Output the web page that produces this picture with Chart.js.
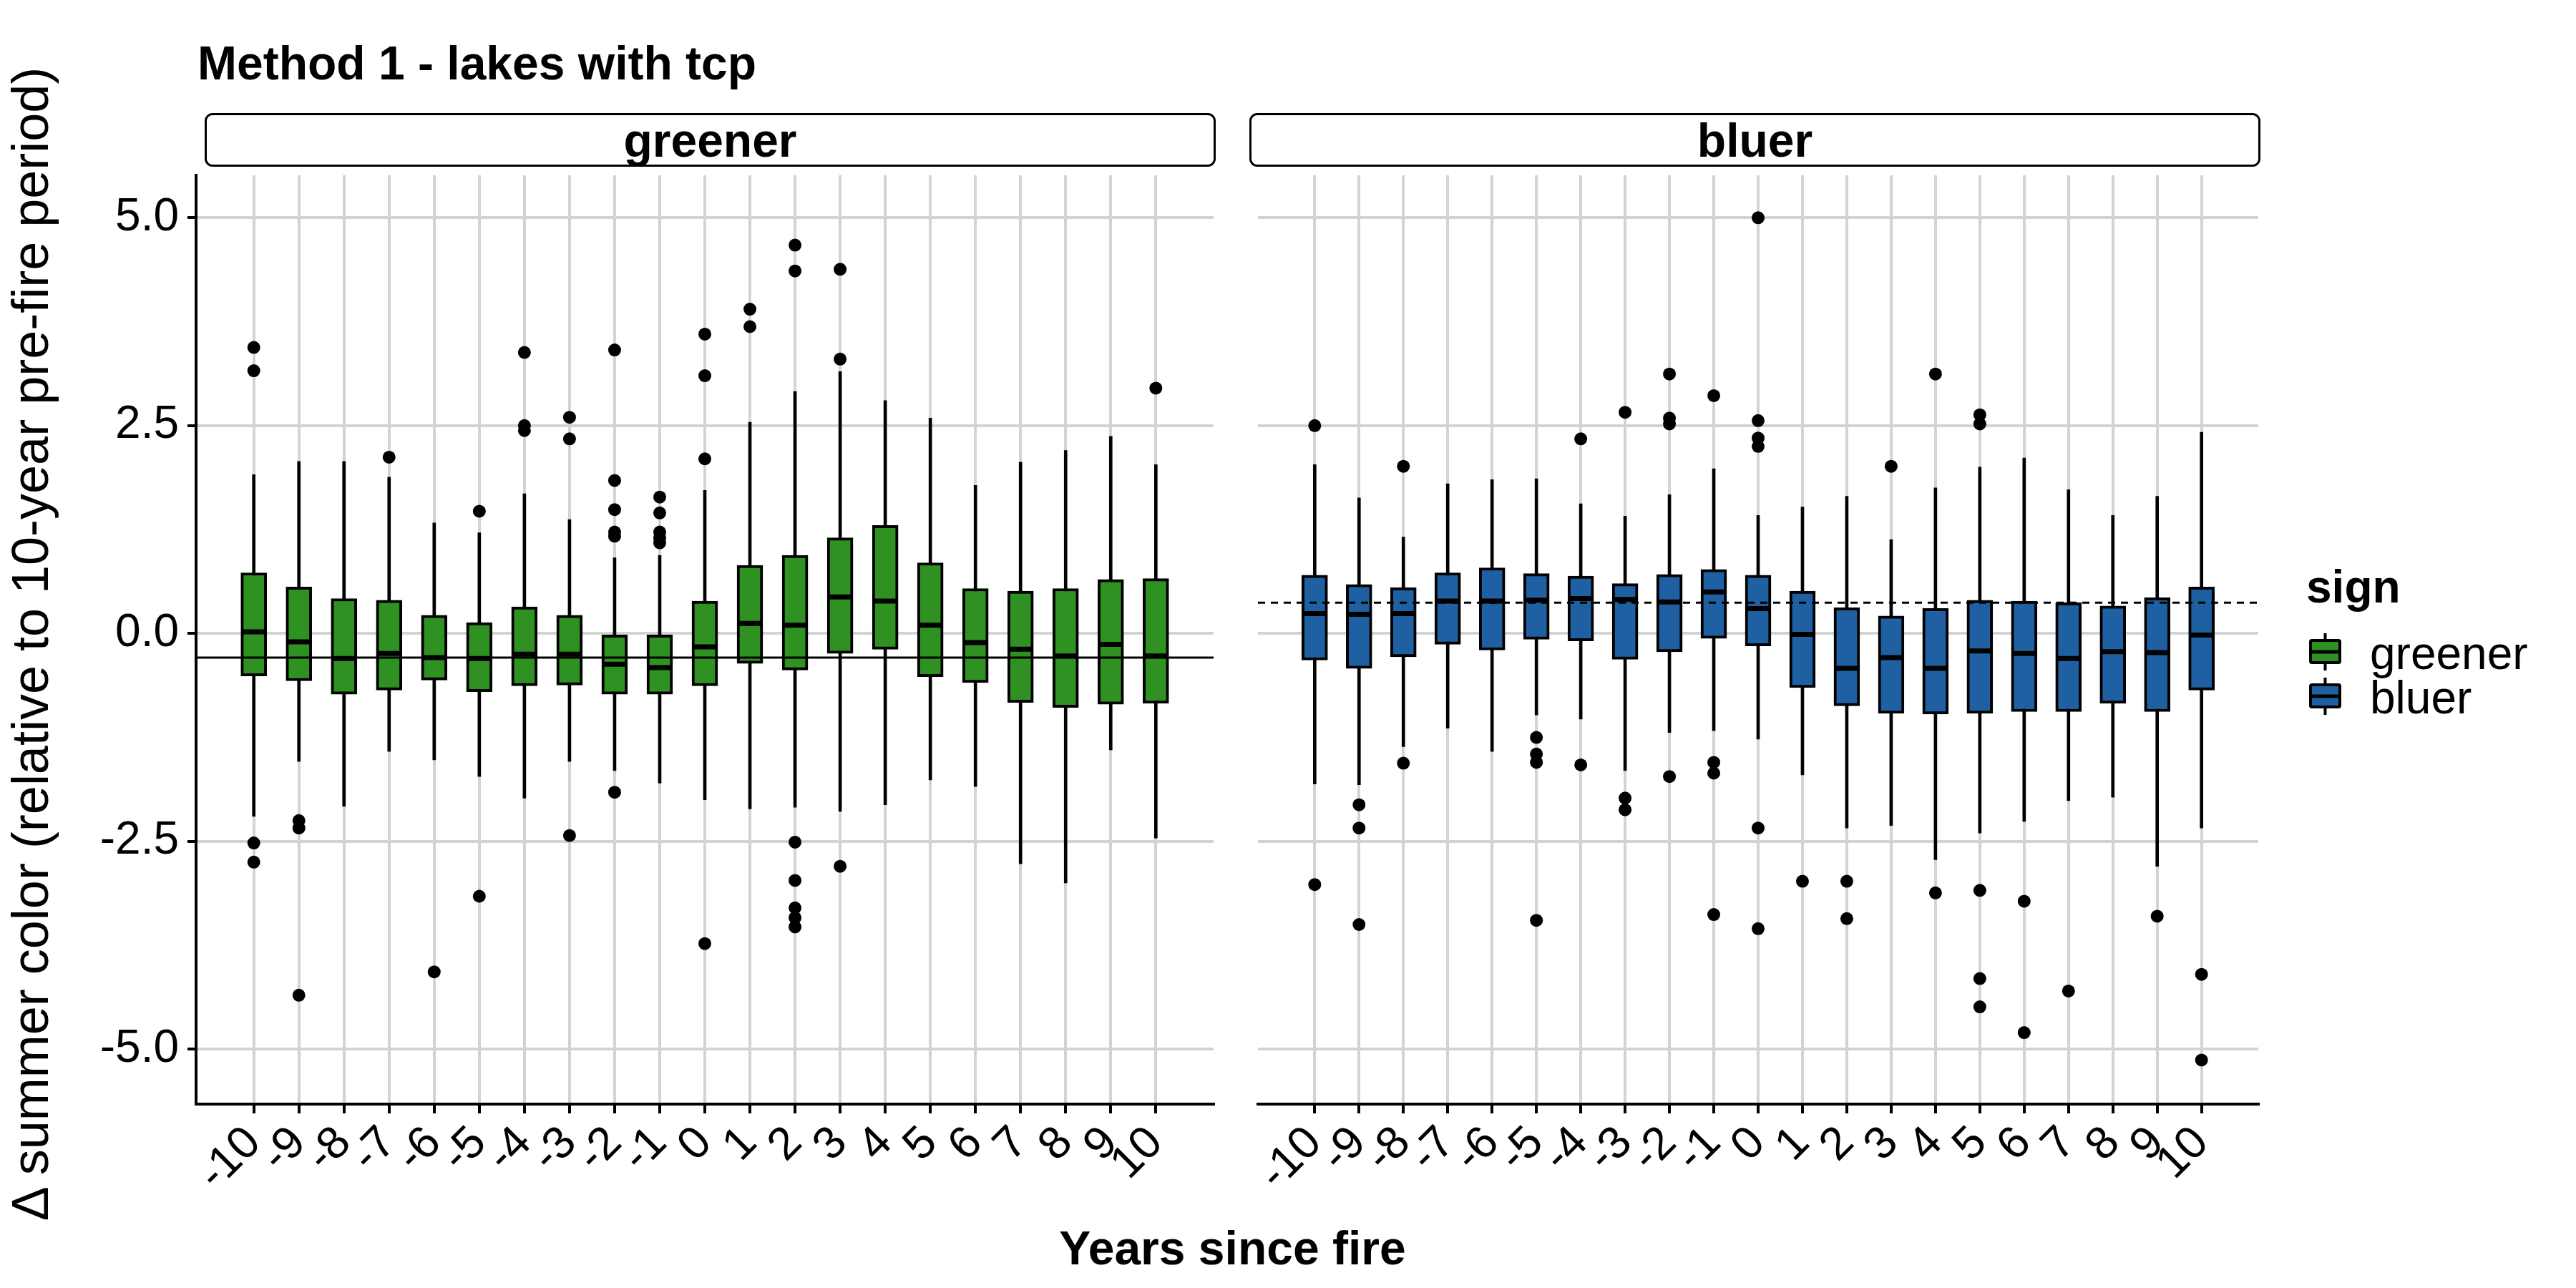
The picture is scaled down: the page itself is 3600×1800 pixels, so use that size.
<!DOCTYPE html>
<html><head><meta charset="utf-8">
<script src="https://cdn.jsdelivr.net/npm/chart.js@4.4.1/dist/chart.umd.min.js"></script>
<style>
html,body{margin:0;padding:0;background:#fff;}
#wrap{position:relative;width:3600px;height:1800px;overflow:hidden;font-family:"Liberation Sans",Arial,Helvetica,sans-serif;color:#000;}
.abs{position:absolute;white-space:nowrap;}
canvas{position:absolute;top:0;}
.strip{position:absolute;top:158px;height:75px;box-sizing:border-box;border:3.5px solid #000;border-radius:11px;display:flex;align-items:center;justify-content:center;font-weight:bold;font-size:66px;line-height:66px;}
</style></head>
<body><div id="wrap">
<div class="abs" style="left:276px;top:55px;font-weight:bold;font-size:66px;line-height:66px;">Method 1 - lakes with tcp</div>
<div class="strip" style="left:286px;width:1413px;">greener</div>
<div class="strip" style="left:1746px;width:1413px;">bluer</div>
<canvas id="c1" width="1720" height="1800" style="left:0"></canvas>
<canvas id="c2" width="1446" height="1800" style="left:1734px"></canvas>
<div class="abs" style="left:-858px;top:864px;width:1800px;text-align:center;font-size:72px;line-height:72px;transform:rotate(-90deg);transform-origin:50% 50%;">Δ summer color (relative to 10-year pre-fire period)</div>
<div class="abs" style="left:0;width:3445px;text-align:center;top:1711px;font-weight:bold;font-size:66px;line-height:66px;">Years since fire</div>
<div class="abs" style="left:3223px;top:788px;font-weight:bold;font-size:64px;line-height:64px;">sign</div>
<svg class="abs" id="lkeys" style="left:3200px;top:870px;" width="100" height="150"></svg>
<div class="abs" style="left:3312px;top:881px;font-size:64px;line-height:64px;">greener</div>
<div class="abs" style="left:3312px;top:943px;font-size:64px;line-height:64px;">bluer</div>
</div>
<script>
// ---------------- data ----------------
const years = [-10,-9,-8,-7,-6,-5,-4,-3,-2,-1,0,1,2,3,4,5,6,7,8,9,10];
const xTickLabels = ['-10','-9','-8','-7','-6','-5','-4','-3','-2','-1','0','1','2','3','4','5','6','7','8','9','10'];
const yTickValues = [-5,-2.5,0,2.5,5];
const yTickLabels = ['-5.0','-2.5','0.0','2.5','5.0'];

const greenerQ1  = [-0.51,-0.57,-0.73,-0.68,-0.56,-0.70,-0.63,-0.62,-0.73,-0.73,-0.63,-0.36,-0.44,-0.24,-0.19,-0.52,-0.59,-0.83,-0.89,-0.85,-0.84];
const greenerMed = [0.02,-0.10,-0.30,-0.24,-0.29,-0.30,-0.25,-0.25,-0.37,-0.41,-0.16,0.12,0.10,0.44,0.39,0.10,-0.11,-0.19,-0.27,-0.13,-0.27];
const greenerQ3  = [0.73,0.56,0.42,0.40,0.22,0.13,0.32,0.22,0.00,0.00,0.39,0.82,0.94,1.15,1.30,0.85,0.54,0.51,0.54,0.65,0.66];
const greenerLo  = [-2.20,-1.54,-2.08,-1.42,-1.52,-1.72,-1.98,-1.54,-1.65,-1.80,-2.00,-2.11,-2.09,-2.14,-2.06,-1.76,-1.84,-2.77,-3.00,-1.40,-2.46];
const greenerHi  = [1.91,2.07,2.07,1.88,1.33,1.21,1.68,1.37,0.91,0.94,1.72,2.54,2.91,3.15,2.80,2.59,1.78,2.06,2.20,2.37,2.03];
const greenerOut = [
  [3.44,3.16,-2.52,-2.75],[-2.25,-2.34,-4.35],[],[2.12],[-4.07],[1.47,-3.16],[3.38,2.50,2.44],
  [2.60,2.34,-2.43],[3.41,1.84,1.49,1.22,1.17,-1.91],[1.64,1.45,1.22,1.15,1.09],[3.60,3.10,2.10,-3.73],
  [3.90,3.69],[4.67,4.36,-2.51,-2.97,-3.30,-3.42,-3.53],[4.38,3.30,-2.80],[],[],[],[],[],[],[2.95]
];
const greenerRef = -0.29;

const bluerQ1  = [-0.32,-0.42,-0.28,-0.13,-0.20,-0.07,-0.09,-0.31,-0.22,-0.06,-0.15,-0.65,-0.87,-0.96,-0.97,-0.96,-0.94,-0.94,-0.84,-0.94,-0.68];
const bluerMed = [0.24,0.23,0.24,0.39,0.39,0.40,0.42,0.41,0.38,0.50,0.30,-0.01,-0.42,-0.29,-0.42,-0.21,-0.24,-0.30,-0.22,-0.23,-0.02];
const bluerQ3  = [0.70,0.59,0.55,0.73,0.79,0.72,0.69,0.60,0.71,0.77,0.70,0.51,0.31,0.21,0.30,0.40,0.39,0.37,0.33,0.43,0.56];
const bluerLo  = [-1.81,-1.82,-1.36,-1.14,-1.42,-0.98,-1.03,-1.65,-1.19,-1.17,-1.27,-1.70,-2.34,-2.31,-2.72,-2.40,-2.26,-2.01,-1.97,-2.80,-2.34];
const bluerHi  = [2.03,1.63,1.16,1.80,1.85,1.86,1.56,1.41,1.67,1.98,1.42,1.52,1.65,1.13,1.75,2.00,2.11,1.73,1.42,1.65,2.42];
const bluerOut = [
  [2.50,-3.02],[-2.06,-2.34,-3.50],[2.01,-1.56],[],[],[-1.25,-1.45,-1.55,-3.45],[2.34,-1.58],
  [2.66,-1.98,-2.12],[3.12,2.59,2.52,-1.72],[2.86,-1.55,-1.68,-3.38],[5.00,2.56,2.35,2.25,-2.34,-3.55],
  [-2.98],[-2.98,-3.43],[2.01],[3.12,-3.12],[2.63,2.52,-3.09,-4.15,-4.49],[-3.22,-4.80],[-4.30],[],[-3.40],[-4.10,-5.13]
];
const bluerRef = 0.37;

// ---------------- style ----------------
const GREEN = '#2e9121';
const BLUE = '#1f60a3';
const GRID = '#d3d3d3';
const FONT = '"Liberation Sans", Arial, Helvetica, sans-serif';
const X_MIN = -11.28, X_MAX = 11.28;
const Y_MIN = -5.66, Y_MAX = 5.51;

function makePanel(id, color, q1, med, q3, lo, hi, outl, refVal, refDash, showY, rightPad) {
  const boxes = years.map((x, i) => ({x: x, y: [q1[i], q3[i]]}));
  const whisk = years.map((x, i) => ({x: x, y: [lo[i], hi[i]]}));
  const meds  = years.map((x, i) => ({x: x, y: med[i]}));
  const outs  = years.flatMap((x, i) => outl[i].map(v => ({x: x, y: v})));
  const ref   = [{x: X_MIN, y: refVal}, {x: X_MAX, y: refVal}];
  return new Chart(document.getElementById(id), {
    type: 'bar',
    data: {datasets: [
      {type: 'bar', data: whisk, backgroundColor: '#000', borderWidth: 0, barThickness: 4, grouped: false, order: 5},
      {type: 'bar', data: boxes, backgroundColor: color, borderColor: '#000', borderWidth: 4, borderSkipped: false, barThickness: 36, grouped: false, order: 4},
      {type: 'scatter', data: meds, pointStyle: 'line', pointRadius: 17, pointBorderColor: '#000', pointBorderWidth: 7, pointBackgroundColor: '#000', order: 3},
      {type: 'scatter', data: outs, pointStyle: 'circle', pointRadius: 9, pointBackgroundColor: '#000', pointBorderWidth: 0, order: 2},
      {type: 'line', data: ref, borderColor: '#000', borderWidth: 3, borderDash: refDash, pointRadius: 0, fill: false, order: 1}
    ]},
    options: {
      responsive: false, animation: false, devicePixelRatio: 1, events: [],
      layout: {padding: {top: 245, right: rightPad, left: 0, bottom: 0}},
      plugins: {legend: {display: false}, tooltip: {enabled: false}},
      scales: {
        x: {
          type: 'linear', min: X_MIN, max: X_MAX, offset: false,
          afterBuildTicks: s => { s.ticks = years.map(v => ({value: v})); },
          afterFit: s => { s.height = 257; s.paddingLeft = 0; s.paddingRight = 0; },
          ticks: {autoSkip: false, minRotation: 45, maxRotation: 45, padding: 4, color: '#000',
                  font: {family: FONT, size: 64}, callback: (v, i) => xTickLabels[i]},
          grid: {offset: false, color: GRID, lineWidth: 4, drawTicks: true, tickLength: 13, tickColor: '#000', tickWidth: 4},
          border: {display: true, color: '#000', width: 4}
        },
        y: {
          type: 'linear', min: Y_MIN, max: Y_MAX,
          afterBuildTicks: s => { s.ticks = yTickValues.map(v => ({value: v})); },
          afterFit: s => { s.width = showY ? 274 : 0; s.paddingTop = 0; s.paddingBottom = 0; },
          ticks: {display: showY, padding: 12, color: '#000', font: {family: FONT, size: 64},
                  callback: (v, i) => yTickLabels[i]},
          grid: {offset: false, color: GRID, lineWidth: 4, drawTicks: showY, tickLength: 12, tickColor: '#000', tickWidth: 4},
          border: {display: showY, color: '#000', width: 4}
        }
      }
    }
  });
}

makePanel('c1', GREEN, greenerQ1, greenerMed, greenerQ3, greenerLo, greenerHi, greenerOut, greenerRef, [], true, 9);
makePanel('c2', BLUE, bluerQ1, bluerMed, bluerQ3, bluerLo, bluerHi, bluerOut, bluerRef, [10, 8], false, 9);

// legend keys
(function () {
  const svg = document.getElementById('lkeys');
  const NS = 'http://www.w3.org/2000/svg';
  function key(col, y0) {
    const l = document.createElementNS(NS, 'line');
    l.setAttribute('x1', 49.5); l.setAttribute('x2', 49.5);
    l.setAttribute('y1', y0); l.setAttribute('y2', y0 + 52);
    l.setAttribute('stroke', '#000'); l.setAttribute('stroke-width', 4);
    svg.appendChild(l);
    const r = document.createElementNS(NS, 'rect');
    r.setAttribute('x', 29); r.setAttribute('y', y0 + 10); r.setAttribute('width', 41); r.setAttribute('height', 31);
    r.setAttribute('rx', 2); r.setAttribute('fill', col); r.setAttribute('stroke', '#000'); r.setAttribute('stroke-width', 4);
    svg.appendChild(r);
    const m = document.createElementNS(NS, 'line');
    m.setAttribute('x1', 29); m.setAttribute('x2', 70);
    m.setAttribute('y1', y0 + 26); m.setAttribute('y2', y0 + 26);
    m.setAttribute('stroke', '#000'); m.setAttribute('stroke-width', 5);
    svg.appendChild(m);
  }
  key(GREEN, 15);
  key(BLUE, 77);
})();
</script>
</body></html>
